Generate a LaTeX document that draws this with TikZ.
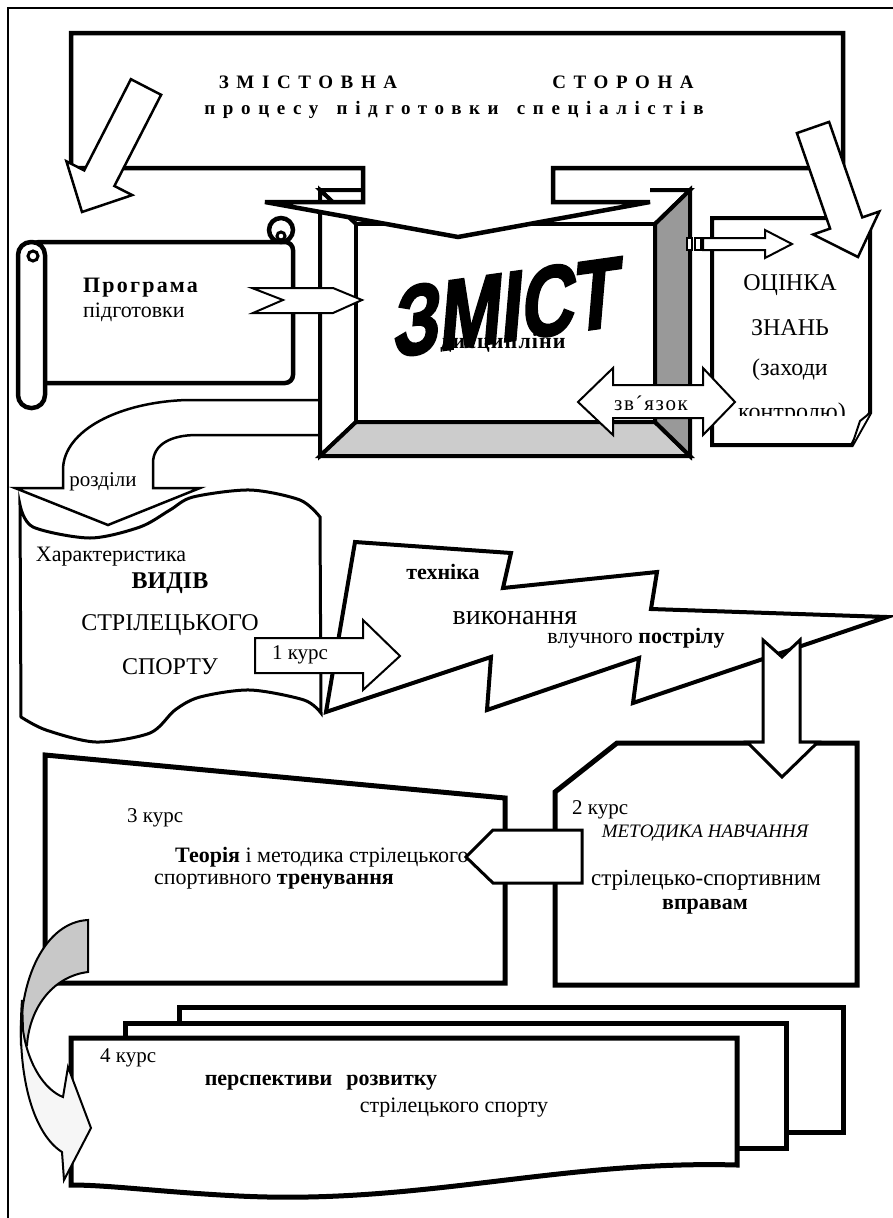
\documentclass[tikz,border=0pt]{standalone}
\usepackage{fontspec}
\setmainfont{Liberation Serif}
\newfontfamily\artfont{Liberation Sans Bold}[FakeSlant=0.3, FakeBold=2.5]
\definecolor{bevellight}{RGB}{204,204,204}
\definecolor{beveldark}{RGB}{153,153,153}
\definecolor{curvegray}{RGB}{200,200,200}
\definecolor{curvelight}{RGB}{246,246,246}
\newcommand{\fsz}[1]{\fontsize{#1}{#1}\selectfont}

\begin{document}
\begin{tikzpicture}[x=1pt, y=-1pt,
    outline/.style={draw=black, line width=4.5pt, fill=white},
    tapeline/.style={draw=black, line width=3pt, fill=white},
    bigarrow/.style={draw=black, line width=2.5pt, fill=white},
    arrowline/.style={draw=black, line width=2pt, fill=white},
    txt/.style={inner sep=0pt, font=\fsz{22}},
    boldtxt/.style={inner sep=0pt, font=\fsz{22}\bfseries}
  ]
  \useasboundingbox (0,0) rectangle (893,1218);
  % outer frame
  \draw[line width=2.5pt] (893,8) -- (8,8) -- (8,1218);

  % scroll: programa
  \filldraw[outline, rounded corners=8] (31,242) -- (293,242) -- (293,383) -- (31,383) -- cycle;
  \filldraw[outline] (281,230) circle (12);
  \draw[line width=3pt] (281,236) circle (4);
  \filldraw[outline, rounded corners=13] (18,242) rectangle (45,408);
  \draw[line width=3pt] (33,256) circle (5);
  \node[boldtxt, font={\fsz{22}\bfseries\addfontfeatures{LetterSpace=10}}, anchor=west] (progA) at (83,288) {Програма};
  \node[txt, anchor=west] (progB) at (83,312) {підготовки};

  % punched tape: vydy
  \filldraw[tapeline] plot[smooth] coordinates {(20,505) (33,527) (90,538) (140,527) (170,510) (193,497) (250,490) (300,500) (320,517)}
    -- plot[smooth] coordinates {(321,713) (304,700) (250,690) (200,697) (175,710) (150,733) (96,742) (46,730) (21,717)} -- cycle;
  \node[txt] (vydA) at (111,557) {Характеристика};
  \node[boldtxt, font=\fsz{24}\bfseries] (vydB) at (170,583) {ВИДІВ};
  \node[txt, font=\fsz{24}] (vydC) at (170,625) {СТРІЛЕЦЬКОГО};
  \node[txt, font=\fsz{24}] (vydD) at (170,667) {СПОРТУ};

  % rozdily arrow
  \filldraw[tapeline, line width=2.5pt] (320,400) -- (187,400) .. controls (120,402) and (63,430) .. (63,470)
    -- (63,488) -- (15,488) -- (108,525) -- (200,488) -- (153,488) -- (153,463)
    .. controls (153,445) and (170,435) .. (197,435) -- (320,435) -- cycle;
  \node[txt, font=\fsz{21}] (rozdily) at (103,482) {розділи};

  % zmist box
  \filldraw[outline, line width=4pt] (320,190) -- (690,190) -- (655,224) -- (356,224) -- cycle;
  \filldraw[outline, line width=4pt] (320,190) -- (356,224) -- (356,422) -- (320,456) -- cycle;
  \filldraw[outline, line width=4pt, fill=bevellight] (320,456) -- (356,422) -- (655,422) -- (690,456) -- cycle;
  \filldraw[outline, line width=4pt, fill=beveldark] (690,190) -- (690,456) -- (655,422) -- (655,224) -- cycle;
  \filldraw[outline, line width=4pt] (356,224) rectangle (655,422);

  % title frame
  \fill[white] (553,168) rectangle (650,202);
  \filldraw[outline] (71,33) -- (843,33) -- (843,168) -- (553,168) -- (553,202) -- (650,202) -- (458,237)
    -- (265,202) -- (363,202) -- (363,168) -- (71,168) -- cycle;
  \node[boldtxt, font={\fsz{19}\bfseries\addfontfeatures{LetterSpace=40}}] (titleA) at (308,82) {ЗМІСТОВНА};
  \node[boldtxt, font={\fsz{19}\bfseries\addfontfeatures{LetterSpace=40}}] (titleB) at (623,82) {СТОРОНА};
  \node[boldtxt, font={\fsz{19}\bfseries\addfontfeatures{LetterSpace=40}}] (titleC) at (454,110) {процесу\hspace{6pt} підготовки\hspace{6pt} спеціалістів};

  \node[boldtxt, font={\fsz{22}\bfseries\addfontfeatures{LetterSpace=5}}] (dysc) at (503,343) {дисципліни};
  \node[inner sep=0pt, rotate=8, font=\artfont\fsz{98}] (zmist) at (500,308) {\scalebox{0.76}[1]{ЗМІСТ}};

  % otsinka box
  \filldraw[outline, line width=4pt] (712,218) -- (870,218) -- (870,413) -- (852,445) -- (712,445) -- cycle;
  \filldraw[arrowline] (870,413) -- (860,421) -- (852,445);
  \node[txt, font=\fsz{24}] (otsA) at (790,285) {ОЦІНКА};
  \node[txt, font=\fsz{24}] (otsB) at (790,328) {ЗНАНЬ};
  \node[txt, font=\fsz{24}] (otsC) at (790,370) {(заходи};
  \begin{scope}
    \clip (714,220) rectangle (868,415);
    \node[txt, font=\fsz{24}] (otsD) at (792,414) {контролю)};
  \end{scope}

  % big arrows from the title
  \filldraw[bigarrow] (130.9,79.2) -- (161.1,94.8) -- (114.4,186.0) -- (132.2,195.1) -- (82,212)
    -- (66.4,161.3) -- (84.2,170.4) -- cycle;
  \filldraw[bigarrow] (796.9,133.1) -- (829.1,121.9) -- (862.3,217.4) -- (879.3,211.5) -- (858,257)
    -- (813.1,234.5) -- (830.1,228.6) -- cycle;

  % striped arrow and link arrow
  \filldraw[arrowline] (687,238) rectangle (692,250);
  \filldraw[arrowline] (695,238) rectangle (701,250);
  \filldraw[arrowline] (703,238) -- (765,238) -- (765,230) -- (792,244) -- (765,258) -- (765,250) -- (703,250) -- cycle;
  \filldraw[arrowline] (578,402) -- (613,368) -- (613,385) -- (703,385) -- (703,368) -- (735,402)
    -- (703,435) -- (703,418) -- (613,418) -- (613,435) -- cycle;
  \node[txt, font={\fsz{21}\addfontfeatures{LetterSpace=8}}] (zvyazok) at (651,403) {зв´язок};

  % programa arrow
  \filldraw[arrowline] (252,288) -- (333,288) -- (362,300) -- (333,313) -- (253,313) -- (283,300) -- cycle;

  % lightning: tekhnika
  \filldraw[outline, line width=4pt] (355,542) -- (511,553) -- (503,588) -- (657,572) -- (651,609) -- (887,617)
    -- (633,703) -- (639,658) -- (487,710) -- (491,657) -- (326,712) -- cycle;
  \node[boldtxt] (tekhA) at (443,572) {техніка};
  \node[txt, font=\fsz{28}] (tekhB) at (515,618) {виконання};
  \node[txt] (tekhC) at (636,638) {влучного \textbf{пострілу}};

  % course 1 arrow
  \filldraw[arrowline] (255,638) -- (363,638) -- (363,620) -- (400,656) -- (363,690) -- (363,673) -- (255,673) -- cycle;
  \node[txt, font=\fsz{21}] (kurs1) at (300,655) {1 курс};

  % course 2 box
  \filldraw[outline, line width=5pt] (555,792) -- (617,743) -- (857,743) -- (857,985) -- (555,985) -- cycle;
  \node[txt, font=\fsz{21}, anchor=west] (kurs2) at (572,810) {2 курс};
  \node[txt, font=\fsz{19}\itshape] (metA) at (705,833) {МЕТОДИКА НАВЧАННЯ};
  \node[txt, font=\fsz{23}] (metB) at (706,880) {стрілецько-спортивним};
  \node[boldtxt] (metC) at (705,907) {вправам};
  \filldraw[tapeline] (763,640) -- (782,657) -- (800,640) -- (800,742) -- (818,742) -- (782,777) -- (747,742) -- (763,742) -- cycle;

  % course 3 box
  \filldraw[outline, line width=5pt] (45,755) -- (505,798) -- (505,983) -- (45,983) -- cycle;
  \node[txt, font=\fsz{21}, anchor=west] (kurs3) at (127,818) {3 курс};
  \node[txt, anchor=west] (theoA) at (175,857) {\textbf{Теорія} і методика стрілецького};
  \node[txt, anchor=west] (theoB) at (154,882) {спортивного \textbf{тренування}};
  \filldraw[tapeline] (582,830) -- (493,830) -- (466,857) -- (493,883) -- (582,883) -- cycle;

  % course 4 pages
  \filldraw[outline, line width=5pt] (179,1007) rectangle (843,1132);
  \filldraw[outline, line width=5pt] (125,1023) rectangle (786,1148);
  \filldraw[outline, line width=5pt] (71,1038) -- (737,1038) -- (737,1165) .. controls (560,1160) and (420,1205) .. (239,1196)
    .. controls (160,1192) and (110,1185) .. (71,1185) -- cycle;
  \node[txt, font=\fsz{21}, anchor=west] (kurs4) at (100,1058) {4 курс};
  \node[boldtxt] (perspA) at (321,1083) {перспективи\hspace{14pt}розвитку};
  \node[txt] (perspB) at (454,1108) {стрілецького спорту};

  % curved arrow
  \filldraw[arrowline, fill=curvegray] (88,920) -- (88,972) .. controls (55,976) and (30,1005) .. (27,1045)
    -- (21,1045) .. controls (18,980) and (45,922) .. (88,920) -- cycle;
  \filldraw[arrowline, fill=curvelight] (22,1000) .. controls (16,1080) and (35,1135) .. (62,1152) -- (64,1180)
    -- (91,1128) -- (68,1067) -- (63,1097) .. controls (45,1090) and (28,1065) .. (23,1030) -- cycle;
\end{tikzpicture}
\end{document}
